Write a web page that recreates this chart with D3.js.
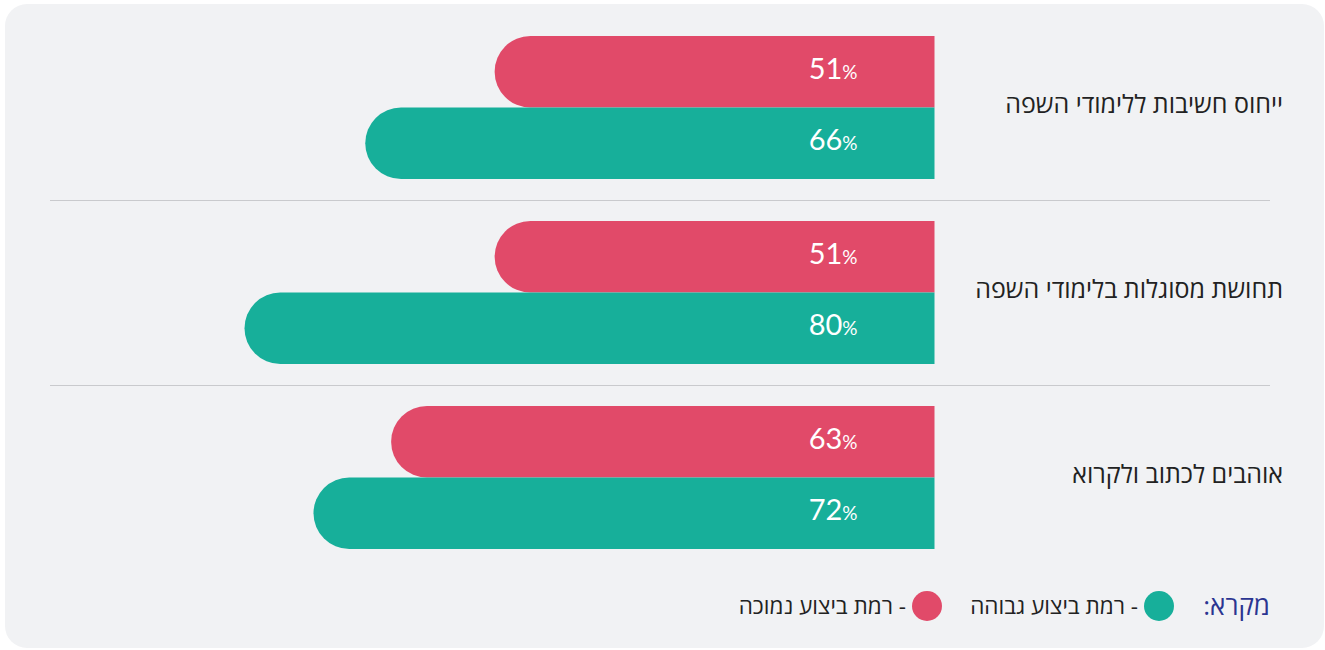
<!DOCTYPE html>
<html lang="he">
<head>
<meta charset="utf-8">
<script src="https://cdn.jsdelivr.net/npm/d3@7"></script>
<style>
  body { margin: 0; background: #ffffff; }
  svg { display: block; }
</style>
</head>
<body>
<div id="chart"></div>
<script>
// categories (top to bottom) and the two series
const categories = ["ייחוס חשיבות ללימודי השפה", "תחושת מסוגלות בלימודי השפה", "אוהבים לכתוב ולקרוא"];
const lowPerf = [51, 51, 63];   // רמת ביצוע נמוכה
const highPerf = [66, 80, 72];  // רמת ביצוע גבוהה
const seriesKeys = ["low", "high"];
const seriesColors = { low: "#e14a69", high: "#17af9a" };
const legendTitle = "מקרא:";
const legendLabels = { high: "- רמת ביצוע גבוהה", low: "- רמת ביצוע נמוכה" };

const W = 1325, H = 650;

const svg = d3.select("#chart").append("svg")
  .attr("width", W)
  .attr("height", H);

// panel background
svg.append("rect")
  .attr("x", 5).attr("y", 4)
  .attr("width", 1319).attr("height", 644)
  .attr("rx", 22).attr("ry", 22)
  .attr("fill", "#f1f2f4");

// scales
const xScale = d3.scaleLinear().domain([0, 100]).range([934.5, 72]);
const yScale = d3.scaleBand().domain(categories).range([36, 549]).paddingInner(0.227);
const ySub = d3.scaleBand().domain(seriesKeys).range([0, yScale.bandwidth()]);

const data = categories.map((c, i) => ({ cat: c, low: lowPerf[i], high: highPerf[i] }));

// separator lines between groups
const step = yScale.step();
categories.slice(1).forEach(c => {
  const y = Math.round(yScale(c) - (step - yScale.bandwidth()) / 2) + 0.5;
  svg.append("line")
    .attr("x1", 50).attr("x2", 1270)
    .attr("y1", y).attr("y2", y)
    .attr("stroke", "#c9cacd")
    .attr("stroke-width", 1);
});

// bar shape: straight right edge, fully rounded left end
function barPath(v, y, h) {
  const x0 = xScale(v), x1 = xScale(0), r = h / 2;
  return `M${x1},${y} H${x0 + r} A${r},${r} 0 0 0 ${x0 + r},${y + h} H${x1} Z`;
}

const groups = svg.selectAll(".group")
  .data(data)
  .enter().append("g")
  .attr("class", "group")
  .attr("transform", d => `translate(0,${yScale(d.cat)})`);

groups.selectAll(".bar")
  .data(d => seriesKeys.map(k => ({ key: k, value: d[k] })))
  .enter().append("path")
  .attr("class", "bar")
  .attr("d", d => barPath(d.value, ySub(d.key), ySub.bandwidth()))
  .attr("fill", d => seriesColors[d.key]);

// value labels
const vals = groups.selectAll(".val")
  .data(d => seriesKeys.map(k => ({ key: k, value: d[k] })))
  .enter().append("text")
  .attr("class", "val")
  .attr("x", xScale(0) - 77)
  .attr("y", d => ySub(d.key) + ySub.bandwidth() / 2 + 7)
  .attr("text-anchor", "end")
  .attr("fill", "#ffffff")
  .style("font-family", "Lato, 'Open Sans', sans-serif");
vals.append("tspan").style("font-size", "29px").text(d => d.value);
vals.append("tspan").style("font-size", "19px").text("%");

// category labels
groups.append("text")
  .attr("x", 1283)
  .attr("y", yScale.bandwidth() / 2 - 3)
  .attr("dy", "0.33em")
  .attr("text-anchor", "end")
  .attr("fill", "#222222")
  .style("font-family", "'Open Sans', 'Liberation Sans', sans-serif")
  .style("font-size", "25px")
  .text(d => d.cat);

// legend
const legendY = 606;
svg.append("text")
  .attr("x", 1270).attr("y", legendY)
  .attr("dy", "0.35em")
  .attr("direction", "rtl")
  .attr("text-anchor", "start")
  .attr("fill", "#2b3591")
  .style("font-family", "'Open Sans', 'Liberation Sans', sans-serif")
  .style("font-size", "26px")
  .text(legendTitle);

const legendItems = [
  { key: "high", cx: 1159, tx: 1138 },
  { key: "low", cx: 927, tx: 906 }
];
legendItems.forEach(it => {
  svg.append("circle")
    .attr("cx", it.cx).attr("cy", legendY)
    .attr("r", 15)
    .attr("fill", seriesColors[it.key]);
  svg.append("text")
    .attr("x", it.tx).attr("y", legendY)
    .attr("dy", "0.35em")
    .attr("direction", "rtl")
    .attr("text-anchor", "start")
    .attr("fill", "#222222")
    .style("font-family", "'Open Sans', 'Liberation Sans', sans-serif")
    .style("font-size", "22.5px")
    .text(legendLabels[it.key]);
});
</script>
</body>
</html>
